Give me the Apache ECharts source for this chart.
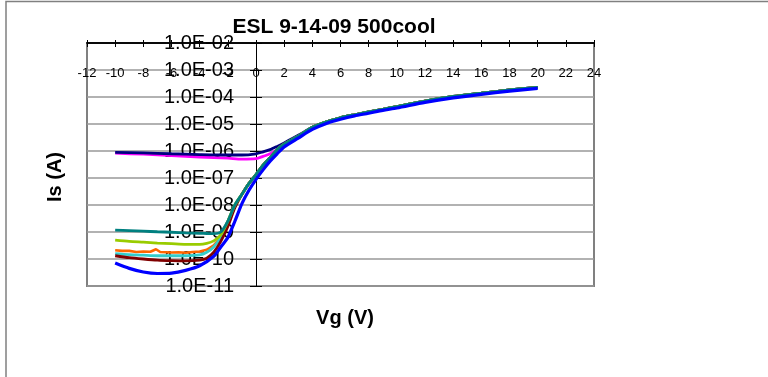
<!DOCTYPE html>
<html><head><meta charset="utf-8">
<script src="https://cdn.jsdelivr.net/npm/echarts@6/dist/echarts.min.js"></script>
<style>html,body{margin:0;padding:0;background:#fff}#c{width:768px;height:377px}</style>
</head><body><div id="c"></div><script>
// ---- data (Vg in V, Is in A) ----
const xLow = [-10,-9,-8,-7,-6,-5,-4,-3.5,-3,-2.5];
const xMain = [-2,-1.5,-1,-0.5,0,0.5,1,1.5,2,3,4,5,6,7,8,9,10,12,14,16,18,20];
const iMain = [2.5e-9,1.0e-8,2.5e-8,6.3e-8,1.35e-7,3.0e-7,5.6e-7,1.12e-6,1.8e-6,3.5e-6,7.6e-6,1.2e-5,1.7e-5,2.2e-5,2.8e-5,3.5e-5,4.4e-5,7.1e-5,1.05e-4,1.38e-4,1.82e-4,2.29e-4];

const xOff = [-10,-8,-6,-4,-2,-1,0,0.5,1,1.5,2,3];
const iNavy = [8.9e-7,8.5e-7,7.9e-7,7.4e-7,7.1e-7,7.1e-7,7.9e-7,9.3e-7,1.12e-6,1.48e-6,2.0e-6,3.8e-6];
const iMagenta = [8.3e-7,7.6e-7,6.8e-7,6.0e-7,5.4e-7,5.0e-7,5.2e-7,6.3e-7,7.9e-7,1.12e-6,1.66e-6,3.5e-6];

const iTeal = [1.17e-9,1.12e-9,1.07e-9,1.02e-9,9.8e-10,9.3e-10,8.9e-10,8.8e-10,8.7e-10,1.0e-9];
const iYellowGreen = [5.0e-10,4.5e-10,4.2e-10,3.9e-10,3.7e-10,3.5e-10,3.5e-10,3.8e-10,4.7e-10,7.9e-10];
const iTurquoise = [1.58e-10,1.45e-10,1.38e-10,1.32e-10,1.32e-10,1.32e-10,1.41e-10,1.78e-10,2.8e-10,6.3e-10];

const xOrange = [-10,-9.5,-9,-8.5,-8,-7.5,-7.1,-6.8,-6,-5.5,-5,-4.5,-4,-3.5,-3,-2.5];
const iOrange = [2.1e-10,2.0e-10,2.0e-10,1.82e-10,1.9e-10,1.86e-10,2.3e-10,1.82e-10,1.74e-10,1.78e-10,1.7e-10,1.82e-10,1.9e-10,2.2e-10,3.2e-10,6.3e-10];

const xDarkRed = [-10,-9,-8,-7,-6,-5,-4,-3.5,-3,-2.5,-2,-1.5];
const iDarkRed = [1.32e-10,1.12e-10,1.0e-10,9.1e-11,8.7e-11,8.5e-11,9.1e-11,1.07e-10,1.78e-10,4.5e-10,1.6e-9,7.9e-9];

const xBlue = [-10,-9,-8,-7,-6,-5,-4,-3,-2.5,-2,-1.5,-1,-0.5,0,0.5,1,1.5,2,3,4,5,6,7,8,9,10,12,14,16,18,20];
const iBlue = [7.1e-11,4.5e-11,3.3e-11,2.9e-11,3.0e-11,3.8e-11,5.6e-11,1.26e-10,2.8e-10,6.3e-10,2.5e-9,1.12e-8,3.5e-8,8.9e-8,2.0e-7,4.2e-7,7.9e-7,1.41e-6,3.0e-6,6.3e-6,1.05e-5,1.5e-5,2.0e-5,2.5e-5,3.2e-5,3.9e-5,6.3e-5,9.3e-5,1.26e-4,1.66e-4,2.09e-4];

const xTicks = [-12,24,2];
const titleText = 'ESL 9-14-09 500cool';
const xName = 'Vg (V)';
const yName = 'Is (A)';

// ---- build ----
const pairs = (xs, ys) => xs.map((x, i) => [x, ys[i]]);
const mainFrom = (x0) => { const k = xMain.indexOf(x0); return pairs(xMain.slice(k), iMain.slice(k)); };
const FF = '"Liberation Sans", Arial, sans-serif';

function line(name, color, data, width, smooth) {
  return { name, type: 'line', data, showSymbol: false, symbol: 'none', smooth: smooth === false ? false : 0.25,
    lineStyle: { color, width: width || 2.8 }, itemStyle: { color }, z: 3, silent: true };
}
const series = [
  line('magenta', '#ff00ff', pairs(xOff, iMagenta).concat(mainFrom(4))),
  line('navy', '#000080', pairs(xOff, iNavy).concat(mainFrom(4))),
  line('orange', '#ff6600', pairs(xOrange, iOrange).concat(mainFrom(-2)), 2.6, false),
  line('turquoise', '#33cccc', pairs(xLow, iTurquoise).concat(mainFrom(-2))),
  line('darkred', '#800000', pairs(xDarkRed, iDarkRed).concat(mainFrom(-1))),
  line('yellowgreen', '#99cc00', pairs(xLow, iYellowGreen).concat(mainFrom(-2))),
  line('teal', '#008080', pairs(xLow, iTeal).concat(mainFrom(-2))),
  line('blue', '#0000ff', pairs(xBlue, iBlue), 3.2)
];

const fmtY = v => { const e = Math.round(Math.log10(v)); return '1.0E' + (e < 0 ? '-' : '+') + String(Math.abs(e)).padStart(2, '0'); };

const GL = 87, GW = 507;
const zeroOffset = -(GW * (0 - xTicks[0]) / (xTicks[1] - xTicks[0]));

const chart = echarts.init(document.getElementById('c'), null, { renderer: 'canvas' });
chart.setOption({
  animation: false,
  backgroundColor: '#fff',
  grid: { left: GL, top: 43, width: GW, height: 243, show: true, borderColor: '#808080', borderWidth: 2, backgroundColor: 'transparent' },
  xAxis: [
    { type: 'value', min: xTicks[0], max: xTicks[1], interval: xTicks[2], position: 'top',
      axisLine: { onZero: false, lineStyle: { color: '#000', width: 1.5 } },
      axisTick: { show: true, length: 3, lineStyle: { color: '#000' } },
      axisLabel: { inside: true, margin: 30, verticalAlign: 'middle', fontSize: 13, color: '#000', fontFamily: FF },
      splitLine: { show: false } },
    { type: 'value', min: xTicks[0], max: xTicks[1], interval: xTicks[2], position: 'top',
      axisLine: { onZero: false, lineStyle: { color: '#000', width: 1.5 } },
      axisTick: { show: true, inside: true, length: 4, lineStyle: { color: '#000' } },
      axisLabel: { show: false }, splitLine: { show: false } }
  ],
  yAxis: [
    { type: 'log', logBase: 10, min: 1e-11, max: 1e-2, splitNumber: 9, position: 'left', offset: zeroOffset,
      axisLine: { onZero: false, lineStyle: { color: '#000', width: 1 } },
      axisTick: { show: true, length: 6, lineStyle: { color: '#000' } },
      axisLabel: { formatter: fmtY, margin: 22, fontSize: 20, color: '#000', fontFamily: FF },
      splitLine: { show: true, lineStyle: { color: '#999', width: 1.5 } },
      minorTick: { show: false }, minorSplitLine: { show: false } },
    { type: 'log', logBase: 10, min: 1e-11, max: 1e-2, splitNumber: 9, position: 'left', offset: zeroOffset,
      axisLine: { onZero: false, lineStyle: { color: '#000', width: 1 } },
      axisTick: { show: true, inside: true, length: 6, lineStyle: { color: '#000' } },
      axisLabel: { show: false }, splitLine: { show: false } }
  ],
  series,
  graphic: [
    { type: 'polyline', shape: { points: [[6, 377], [6, 1.5], [768, 1.5]] }, style: { stroke: '#808080', lineWidth: 1.5, fill: null }, z: 100 },
    { type: 'text', x: 334, y: 27, style: { text: titleText, font: 'bold 21px ' + FF, fill: '#000', textAlign: 'center', textVerticalAlign: 'middle' }, z: 100 },
    { type: 'text', x: 345, y: 318, style: { text: xName, font: 'bold 20px ' + FF, fill: '#000', textAlign: 'center', textVerticalAlign: 'middle' }, z: 100 },
    { type: 'text', x: 55, y: 177, rotation: Math.PI / 2, style: { text: yName, font: 'bold 20px ' + FF, fill: '#000', textAlign: 'center', textVerticalAlign: 'middle' }, z: 100 }
  ]
});
</script></body></html>
